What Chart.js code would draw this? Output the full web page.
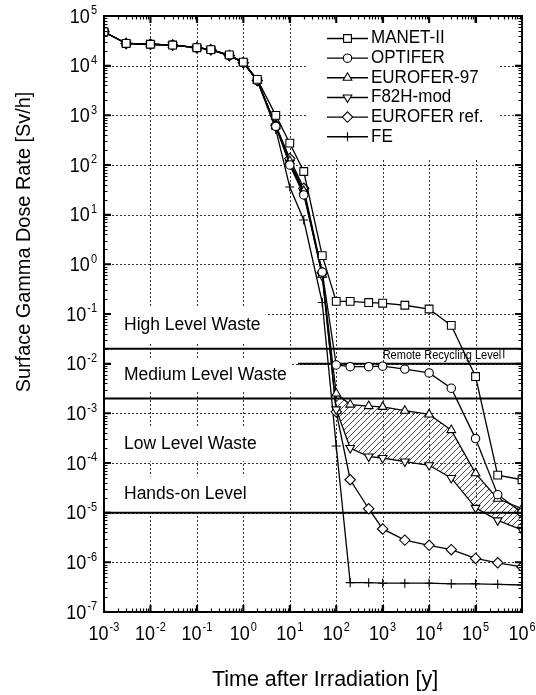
<!DOCTYPE html>
<html><head><meta charset="utf-8">
<script src="https://cdn.jsdelivr.net/npm/chart.js@4.4.1/dist/chart.umd.min.js"></script>
<style>html,body{margin:0;padding:0;background:#fff;}canvas{display:block;}</style>
</head><body>
<canvas id="c" width="536" height="695"></canvas>
<script>
// ---------- data ----------
const times = [0.001,0.003,0.01,0.03,0.1,0.2,0.5,1,2,5,10,20,50,100,200,500,1000,3000,1e4,3e4,1e5,3e5,1e6];
const manet   = [48000,28000,27000,26000,23000,21000,16500,11800,5300,1000,275,74,1.5,0.18,0.18,0.17,0.165,0.15,0.126,0.059,0.0055,5.7e-5,4.6e-5];
const optifer = [48000,28000,27000,26000,23000,21000,16000,11500,5000,600,100,25,0.7,0.0094,0.0087,0.0087,0.0089,0.0078,0.0065,0.0032,3.1e-4,2.3e-5,1.0e-5];
const eurofer97 = [48000,28000,27000,26000,23000,21000,16000,11500,5000,620,120,30,0.62,2.5e-3,1.5e-3,1.4e-3,1.35e-3,1.13e-3,9.5e-4,4.6e-4,6.2e-5,1.9e-5,1.2e-5];
const f82h    = [48000,28000,27000,26000,23000,21000,16000,11500,5000,600,110,28,0.58,1.2e-3,2.0e-4,1.35e-4,1.26e-4,1.07e-4,9e-5,5e-5,1.25e-5,7e-6,4.5e-6];
const euroferRef = [48000,28000,27000,26000,23000,21000,16000,11500,5000,630,135,34,0.68,1.07e-3,4.6e-5,1.2e-5,4.7e-6,2.8e-6,2.2e-6,1.8e-6,1.2e-6,9.8e-7,8.1e-7];
const fe      = [48000,28000,27000,26000,23000,21000,16000,11500,5000,520,36,7.8,0.17,2.2e-4,3.9e-7,3.9e-7,3.8e-7,3.8e-7,3.8e-7,3.7e-7,3.7e-7,3.6e-7,3.5e-7];
const seriesNames = ['MANET-II','OPTIFER','EUROFER-97','F82H-mod','EUROFER ref.','FE'];
const seriesValues = [manet, optifer, eurofer97, f82h, euroferRef, fe];
const hatchFromTime = 100;
const xExponents = [-3,-2,-1,0,1,2,3,4,5,6];
const yExponents = [-7,-6,-5,-4,-3,-2,-1,0,1,2,3,4,5];
const levelValues = [0.02, 0.01, 0.002, 1e-5];
const levelFrom   = [1e-3, 15, 1e-3, 1e-3];
const levelLabels = ['High Level Waste','Medium Level Waste','Low Level Waste','Hands-on Level'];
const levelLabelY = [0.06, 0.0059, 2.4e-4, 2.45e-5];
const remoteLabel = 'Remote Recycling Level';
const remoteLabelAt = {x: 1000, y: 0.0148};
const xTitle = 'Time after Irradiation [y]';
const yTitle = 'Surface Gamma Dose Rate [Sv/h]';

// ---------- styles ----------
const FONT = '"Liberation Sans", Arial, Helvetica, sans-serif';
const markerStyles = [
  {style:'rect', r:5.5, rot:0},
  {style:'circle', r:4.2, rot:0},
  {style:'triangle', r:5, rot:0},
  {style:'triangle', r:5, rot:180},
  {style:'rectRot', r:5.2, rot:0},
  {style:'cross', r:4.5, rot:0}
];

const canvas = document.getElementById('c');
const ctx0 = canvas.getContext('2d');
function makeHatch(){
  const c = document.createElement('canvas'); c.width = 6; c.height = 6;
  const g = c.getContext('2d');
  g.strokeStyle = '#3a3a3a'; g.lineWidth = 0.9;
  g.beginPath();
  g.moveTo(0,6); g.lineTo(6,0);
  g.moveTo(-1,1); g.lineTo(1,-1);
  g.moveTo(5,7); g.lineTo(7,5);
  g.stroke();
  return ctx0.createPattern(c,'repeat');
}

const datasets = [];
seriesValues.forEach((vals, i) => {
  const m = markerStyles[i];
  datasets.push({
    label: seriesNames[i],
    data: times.map((t, k) => ({x: t, y: vals[k]})),
    borderColor: '#000', borderWidth: 1.3,
    pointStyle: m.style, pointRadius: m.r, pointRotation: m.rot,
    pointBackgroundColor: '#fff', pointBorderColor: '#000', pointBorderWidth: 1.1,
    tension: 0, fill: false
  });
});
levelValues.forEach((v, i) => {
  datasets.push({
    label: 'level' + i,
    data: [{x: levelFrom[i], y: v}, {x: 1e6, y: v}],
    borderColor: '#000', borderWidth: 2, pointRadius: 0, fill: false
  });
});
const hatchIdx = times.indexOf(hatchFromTime);
const lowerIndex = datasets.length + 1;
datasets.push({
  label: 'hatchUpper',
  data: times.slice(hatchIdx).map((t, k) => ({x: t, y: eurofer97[hatchIdx + k]})),
  borderWidth: 0, pointRadius: 0, borderColor: 'rgba(0,0,0,0)',
  backgroundColor: makeHatch(), fill: {target: lowerIndex}
});
datasets.push({
  label: 'hatchLower',
  data: times.slice(hatchIdx).map((t, k) => ({x: t, y: f82h[hatchIdx + k]})),
  borderWidth: 0, pointRadius: 0, borderColor: 'rgba(0,0,0,0)', fill: false
});

// ---------- helpers ----------
function stretchText(ctx, s, x, y, size, align, sy) {
  ctx.save();
  ctx.translate(x, y); ctx.scale(1, sy);
  ctx.font = size + 'px ' + FONT;
  ctx.textAlign = align; ctx.textBaseline = 'middle';
  ctx.fillStyle = '#000';
  ctx.fillText(s, 0, 0);
  ctx.restore();
}
function sciLabel(ctx, e, x, y, align) {
  const sup = String(e).replace('-', '-');
  ctx.font = '18px ' + FONT; const w1 = ctx.measureText('10').width;
  ctx.font = '11px ' + FONT; const w2 = ctx.measureText(sup).width;
  const total = w1 + 1 + w2;
  let sx = align === 'center' ? x - total / 2 : x - total;
  stretchText(ctx, '10', sx, y, 18, 'left', 1.15);
  stretchText(ctx, sup, sx + w1 + 1, y - 6, 11, 'left', 1.15);
}
function drawMarker(ctx, m, x, y) {
  ctx.save();
  ctx.fillStyle = '#fff'; ctx.strokeStyle = '#000'; ctx.lineWidth = 1.1;
  ctx.beginPath();
  const r = m.r;
  if (m.style === 'rect') { const s = r * Math.SQRT1_2; ctx.rect(x - s, y - s, 2 * s, 2 * s); }
  else if (m.style === 'circle') { ctx.arc(x, y, r, 0, Math.PI * 2); }
  else if (m.style === 'triangle') {
    const d = m.rot === 180 ? -1 : 1;
    ctx.moveTo(x, y - d * r);
    ctx.lineTo(x - r * 0.866, y + d * r * 0.5);
    ctx.lineTo(x + r * 0.866, y + d * r * 0.5);
    ctx.closePath();
  }
  else if (m.style === 'rectRot') { ctx.moveTo(x, y - r); ctx.lineTo(x + r, y); ctx.lineTo(x, y + r); ctx.lineTo(x - r, y); ctx.closePath(); }
  if (m.style === 'cross') { ctx.moveTo(x - r, y); ctx.lineTo(x + r, y); ctx.moveTo(x, y - r); ctx.lineTo(x, y + r); ctx.stroke(); }
  else { ctx.fill(); ctx.stroke(); }
  ctx.restore();
}

const legendBox = {x0: 307, y0: 19, x1: 500, y1: 160};
const legendRows = {y: 38.5, dy: 19.65, lx0: 327, lx1: 368, tx: 371};

const deco = {
  id: 'deco',
  beforeDatasetsDraw(chart) {
    const {ctx, chartArea: a, scales: {x, y}} = chart;
    ctx.save();
    ctx.strokeStyle = '#333'; ctx.lineWidth = 1; ctx.setLineDash([2, 2]);
    ctx.beginPath();
    xExponents.slice(1, -1).forEach(e => {
      const px = Math.round(x.getPixelForValue(Math.pow(10, e))) + 0.5;
      ctx.moveTo(px, a.top); ctx.lineTo(px, a.bottom);
    });
    yExponents.slice(1, -1).forEach(e => {
      const py = Math.round(y.getPixelForValue(Math.pow(10, e))) + 0.5;
      ctx.moveTo(a.left, py); ctx.lineTo(a.right, py);
    });
    ctx.stroke();
    ctx.setLineDash([]);
    // white backgrounds
    ctx.fillStyle = '#fff';
    ctx.fillRect(legendBox.x0, legendBox.y0, legendBox.x1 - legendBox.x0, legendBox.y1 - legendBox.y0);
    ctx.font = '17.5px ' + FONT;
    levelLabels.forEach((s, i) => {
      const py = y.getPixelForValue(levelLabelY[i]);
      const w = ctx.measureText(s).width;
      ctx.fillRect(a.left + 1, py - 17, 20 + w + 4, 34);
    });
    ctx.restore();
  },
  afterDatasetsDraw(chart) {
    const {ctx, chartArea: a, scales: {x, y}} = chart;
    ctx.save();
    levelLabels.forEach((s, i) => {
      const py = y.getPixelForValue(levelLabelY[i]);
      stretchText(ctx, s, a.left + 20, py, 17.5, 'left', 1.08);
    });
    const rx = x.getPixelForValue(remoteLabelAt.x), ry = y.getPixelForValue(remoteLabelAt.y);
    stretchText(ctx, remoteLabel, rx, ry, 11, 'left', 1.1);
    ctx.font = '11px ' + FONT;
    const rw = ctx.measureText(remoteLabel).width;
    ctx.strokeStyle = '#000'; ctx.lineWidth = 1;
    ctx.beginPath();
    ctx.moveTo(rx + rw + 2.5, y.getPixelForValue(levelValues[0]));
    ctx.lineTo(rx + rw + 2.5, ry + 3);
    ctx.stroke();
    // legend
    seriesNames.forEach((s, i) => {
      const py = legendRows.y + i * legendRows.dy;
      ctx.strokeStyle = '#000'; ctx.lineWidth = 1.4;
      ctx.beginPath(); ctx.moveTo(legendRows.lx0, py); ctx.lineTo(legendRows.lx1, py); ctx.stroke();
      drawMarker(ctx, markerStyles[i], (legendRows.lx0 + legendRows.lx1) / 2, py);
      stretchText(ctx, s, legendRows.tx, py, 17, 'left', 1.05);
    });
    ctx.restore();
  },
  afterDraw(chart) {
    const {ctx, chartArea: a, scales: {x, y}} = chart;
    ctx.save();
    ctx.strokeStyle = '#000';
    // ticks
    ctx.lineWidth = 1.2;
    ctx.beginPath();
    for (let e = xExponents[0]; e < xExponents[xExponents.length - 1]; e++) {
      for (let k = 1; k <= 9; k++) {
        const px = Math.round(x.getPixelForValue(k * Math.pow(10, e))) + 0.5;
        const len = k === 1 ? 7 : 3.5;
        ctx.moveTo(px, a.bottom); ctx.lineTo(px, a.bottom - len);
        ctx.moveTo(px, a.top); ctx.lineTo(px, a.top + len);
      }
    }
    for (let e = yExponents[0]; e < yExponents[yExponents.length - 1]; e++) {
      for (let k = 1; k <= 9; k++) {
        const py = Math.round(y.getPixelForValue(k * Math.pow(10, e))) + 0.5;
        const len = k === 1 ? 7 : 3.5;
        ctx.moveTo(a.left, py); ctx.lineTo(a.left + len, py);
        ctx.moveTo(a.right, py); ctx.lineTo(a.right - len, py);
      }
    }
    ctx.stroke();
    // major ticks thicker
    ctx.lineWidth = 2;
    ctx.beginPath();
    xExponents.forEach(e => {
      const px = x.getPixelForValue(Math.pow(10, e));
      ctx.moveTo(px, a.bottom); ctx.lineTo(px, a.bottom - 7);
      ctx.moveTo(px, a.top); ctx.lineTo(px, a.top + 7);
    });
    yExponents.forEach(e => {
      const py = y.getPixelForValue(Math.pow(10, e));
      ctx.moveTo(a.left, py); ctx.lineTo(a.left + 7, py);
      ctx.moveTo(a.right, py); ctx.lineTo(a.right - 7, py);
    });
    ctx.stroke();
    // frame
    ctx.lineWidth = 2;
    ctx.strokeRect(a.left, a.top, a.right - a.left, a.bottom - a.top);
    // tick labels
    xExponents.forEach(e => sciLabel(ctx, e, x.getPixelForValue(Math.pow(10, e)), a.bottom + 22, 'center'));
    yExponents.forEach(e => sciLabel(ctx, e, a.left - 7, y.getPixelForValue(Math.pow(10, e)) + 1, 'right'));
    // axis titles
    stretchText(ctx, xTitle, 325, 680, 21.5, 'center', 1.05);
    ctx.save();
    ctx.translate(25, 242); ctx.rotate(-Math.PI / 2);
    ctx.scale(1.02, 1);
    ctx.font = '19.5px ' + FONT; ctx.textAlign = 'center'; ctx.textBaseline = 'middle'; ctx.fillStyle = '#000';
    ctx.fillText(yTitle, 0, 0);
    ctx.restore();
    ctx.restore();
  }
};

new Chart(canvas, {
  type: 'line',
  data: {datasets},
  options: {
    responsive: false, animation: false, devicePixelRatio: 1,
    layout: {padding: {left: 104, right: 14, top: 16, bottom: 83}},
    plugins: {legend: {display: false}, tooltip: {enabled: false}, filler: {propagate: false}},
    scales: {
      x: {type: 'logarithmic', min: 1e-3, max: 1e6, display: false},
      y: {type: 'logarithmic', min: 1e-7, max: 1e5, display: false}
    }
  },
  plugins: [deco]
});
</script>
</body></html>
